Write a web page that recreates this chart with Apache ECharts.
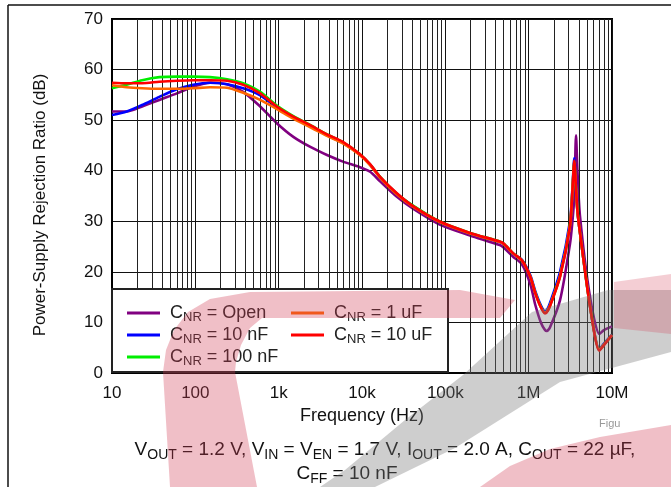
<!DOCTYPE html>
<html>
<head>
<meta charset="utf-8">
<script src="https://cdn.jsdelivr.net/npm/echarts@6/dist/echarts.min.js"></script>
<style>
html,body{margin:0;padding:0;background:#fff;}
#c{width:671px;height:487px;}
</style>
</head>
<body>
<div id="c"></div>
<script>
// ---- data ----
const freq = [10, 15, 23, 37, 60, 94, 150, 240, 375, 600,
  950, 1500, 2400, 3800, 5900, 9400, 12500, 16500, 26000, 41000,
  87000, 198000, 450000, 500000, 650000, 830000, 1050000, 1200000, 1400000, 1570000,
  1650000, 1800000, 2380000, 3130000, 3350000, 3530000, 3700000, 3850000, 4130000, 5450000,
  7050000, 8000000, 10000000];
const psrrOpen = [51.7, 51.7, 52.7, 54.0, 55.3, 56.6, 57.4, 57.1, 55.6, 52.7,
  49.4, 46.7, 44.7, 43.1, 41.8, 40.7, 39.8, 37.9, 34.9, 32.5,
  29.3, 27.2, 25.3, 24.8, 23.0, 21.5, 17.5, 13.5, 10.0, 8.5,
  8.3, 9.0, 14.4, 25.5, 30.0, 35.0, 47.0, 40.0, 31.0, 15.0,
  7.7, 8.5, 9.2];
const psrr10n = [51.0, 51.7, 53.0, 54.6, 56.1, 57.0, 57.4, 57.1, 56.3, 54.9,
  52.5, 50.5, 48.8, 47.0, 45.5, 43.2, 41.2, 38.7, 35.5, 33.0,
  29.8, 27.6, 25.9, 25.5, 23.6, 22.4, 19.3, 16.2, 13.4, 12.2,
  12.4, 13.8, 20.0, 30.0, 36.5, 42.5, 36.5, 32.0, 27.7, 13.2,
  4.8, 5.8, 7.6];
const psrr100n = [56.3, 57.0, 57.9, 58.5, 58.6, 58.6, 58.5, 58.1, 57.3, 55.6,
  52.9, 50.8, 49.0, 47.2, 45.6, 43.3, 41.2, 38.8, 35.5, 33.1,
  29.9, 27.7, 26.0, 25.6, 23.7, 22.3, 19.0, 15.9, 13.1, 11.9,
  12.1, 13.3, 19.2, 29.2, 36.0, 41.8, 36.5, 32.0, 27.7, 13.2,
  4.5, 5.6, 7.5];
const psrr1u = [56.9, 56.5, 56.3, 56.2, 56.2, 56.3, 56.5, 56.4, 55.4, 54.0,
  52.2, 50.3, 48.6, 46.9, 45.4, 43.1, 41.1, 38.6, 35.4, 32.9,
  29.8, 27.6, 25.9, 25.5, 23.6, 22.2, 19.0, 15.8, 13.0, 11.9,
  12.1, 13.3, 19.2, 29.2, 36.0, 41.5, 36.5, 32.0, 27.7, 13.3,
  4.6, 5.6, 7.5];
const psrr10u = [57.4, 57.3, 57.3, 57.6, 57.8, 57.9, 57.9, 57.8, 57.0, 55.3,
  52.7, 50.7, 49.0, 47.2, 45.7, 43.3, 41.3, 38.8, 35.6, 33.0,
  29.9, 27.7, 26.0, 25.6, 23.7, 22.3, 19.0, 15.8, 13.0, 11.8,
  12.0, 13.2, 19.0, 29.0, 36.0, 42.0, 36.5, 32.0, 27.7, 13.1,
  4.4, 5.5, 7.5];
const seriesNames = ['CNR = Open', 'CNR = 10 nF', 'CNR = 100 nF', 'CNR = 1 uF', 'CNR = 10 uF'];
const seriesValues = [psrrOpen, psrr10n, psrr100n, psrr1u, psrr10u];
const seriesColors = ['#800080', '#0000ff', '#00ee00', '#ff6600', '#ff0000'];
const xTickLabels = ['10', '100', '1k', '10k', '100k', '1M', '10M'];
const minorGridFactors = [2, 3, 4, 5, 6, 7, 8, 9];
const decades = [10, 100, 1000, 10000, 100000, 1000000];

// ---- build ----
const chart = echarts.init(document.getElementById('c'), null, {renderer: 'canvas'});
const FONT = 'Liberation Sans, Arial, sans-serif';

const minorLines = [];
decades.forEach(d => minorGridFactors.forEach(f => minorLines.push({xAxis: d * f})));

const series = [{
  type: 'line', data: [], silent: true, z: 1,
  markLine: {
    silent: true, symbol: 'none', animation: false,
    label: {show: false},
    lineStyle: {color: '#222', width: 1, type: 'solid'},
    emphasis: {disabled: true},
    data: minorLines
  }
}];
seriesNames.forEach((n, i) => {
  series.push({
    name: n, type: 'line', z: 3 + i,
    data: freq.map((f, k) => [f, seriesValues[i][k]]),
    showSymbol: false, smooth: 0.25,
    lineStyle: {color: seriesColors[i], width: 2.6},
    itemStyle: {color: seriesColors[i]},
    emphasis: {disabled: true},
    animation: false
  });
});

const legendRich = {
  n: {fontSize: 18, fontFamily: FONT, color: '#222', lineHeight: 20},
  s: {fontSize: 13, fontFamily: FONT, color: '#222', lineHeight: 20, padding: [9, 0, 0, 0]}
};
const legendFmt = name => '{n|C}{s|NR}{n|' + name.slice(3) + '}';
const legendBase = {
  orient: 'vertical', itemWidth: 33, itemHeight: 3, itemGap: 0, icon: 'rect',
  formatter: legendFmt, textStyle: {rich: legendRich, padding: [0, 0, 0, 5]},
  selectedMode: false, z: 60, padding: 0
};

const capRich = {
  n: {fontSize: 19, fontFamily: FONT, fill: '#111', lineHeight: 24},
  s: {fontSize: 14, fontFamily: FONT, fill: '#111', lineHeight: 24, padding: [10, 0, 0, 0]}
};

chart.setOption({
  animation: false,
  backgroundColor: '#fff',
  grid: {left: 112, right: 59, top: 19, bottom: 114, show: true, borderColor: '#000', borderWidth: 2, z: 0},
  xAxis: {
    type: 'log', logBase: 10, min: 10, max: 10000000,
    name: 'Frequency (Hz)', nameLocation: 'middle', nameGap: 29,
    nameTextStyle: {fontSize: 18, fontFamily: FONT, color: '#111'},
    axisLine: {show: true, lineStyle: {color: '#000', width: 2}},
    axisTick: {show: false},
    axisLabel: {fontSize: 17, fontFamily: FONT, color: '#111', margin: 12,
      formatter: v => xTickLabels[Math.round(Math.log10(v)) - 1]},
    splitLine: {show: true, lineStyle: {color: '#111', width: 1}},
    minorTick: {show: false}, minorSplitLine: {show: false}
  },
  yAxis: {
    type: 'value', min: 0, max: 70, interval: 10,
    axisLine: {show: true, lineStyle: {color: '#000', width: 2}},
    axisTick: {show: false},
    axisLabel: {fontSize: 17, fontFamily: FONT, color: '#111', margin: 9},
    splitLine: {show: true, lineStyle: {color: '#111', width: 1}}
  },
  legend: [
    Object.assign({}, legendBase, {left: 127, top: 302, data: seriesNames.slice(0, 3)}),
    Object.assign({}, legendBase, {left: 291, top: 302, data: seriesNames.slice(3)})
  ],
  graphic: [
    {type: 'rect', z: 50, shape: {x: 112, y: 289, width: 336, height: 83},
      style: {fill: '#fff', stroke: '#222', lineWidth: 2}},
    {type: 'line', z: 50, shape: {x1: 8, y1: 5, x2: 671, y2: 5}, style: {stroke: '#111', lineWidth: 1.5}},
    {type: 'line', z: 50, shape: {x1: 8, y1: 5, x2: 8, y2: 487}, style: {stroke: '#111', lineWidth: 1.5}},
    {type: 'text', z: 50, x: 40, y: 205, rotation: Math.PI / 2, style: {
      text: 'Power-Supply Rejection Ratio (dB)', fontSize: 17, fontFamily: FONT, fill: '#111',
      align: 'center', verticalAlign: 'middle'}},
    {type: 'text', z: 50, x: 599, y: 418, style: {text: 'Figu', fontSize: 11, fontFamily: FONT, fill: '#999'}},
    {type: 'text', z: 50, x: 385, y: 450, style: {
      text: '{n|V}{s|OUT}{n| = 1.2 V, V}{s|IN}{n| = V}{s|EN}{n| = 1.7 V, I}{s|OUT}{n| = 2.0 A, C}{s|OUT}{n| = 22 µF,}',
      rich: capRich, align: 'center', verticalAlign: 'middle'}},
    {type: 'text', z: 50, x: 347, y: 474, style: {
      text: '{n|C}{s|FF}{n| = 10 nF}', rich: capRich, align: 'center', verticalAlign: 'middle'}},
    // watermark (semi-transparent logo shapes)
    {type: 'polygon', z: 100, silent: true, shape: {points: [
      [290, 487], [375, 487], [455, 448], [560, 382], [671, 352], [671, 290], [608, 290],
      [532, 312], [463, 375], [405, 420], [345, 470], [320, 487]]},
      style: {fill: 'rgba(120,120,120,0.36)'}},
    {type: 'polygon', z: 101, silent: true, shape: {points: [
      [170, 487], [163, 372], [166, 350], [174, 330], [188, 312], [210, 299], [250, 292],
      [460, 290], [515, 300], [500, 318], [460, 318], [262, 318], [250, 328], [241, 345],
      [236, 362], [235, 372], [257, 487]]},
      style: {fill: 'rgba(210,60,85,0.33)'}},
    {type: 'polygon', z: 101, silent: true, shape: {points: [
      [614, 282], [671, 274], [671, 334], [614, 328]]},
      style: {fill: 'rgba(210,60,85,0.25)'}},
    {type: 'polygon', z: 101, silent: true, shape: {points: [
      [480, 487], [510, 466], [550, 449], [600, 437], [671, 425], [671, 487]]},
      style: {fill: 'rgba(210,60,85,0.33)'}}
  ],
  series: series
});
</script>
</body>
</html>
